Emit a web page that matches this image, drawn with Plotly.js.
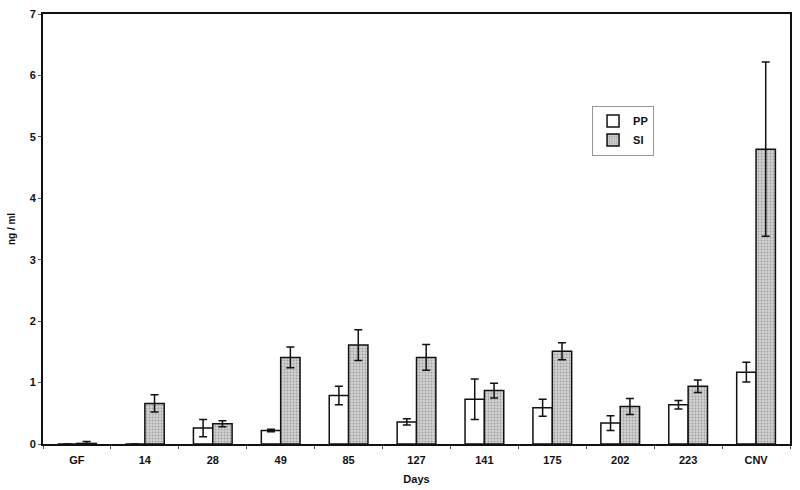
<!DOCTYPE html>
<html>
<head>
<meta charset="utf-8">
<script src="https://cdn.plot.ly/plotly-3.0.1.min.js"></script>
<style>
  body { margin: 0; background: #fff; }
  #chart { width: 800px; height: 490px; }
</style>
</head>
<body>
<div id="chart"></div>
<script>
const days = ['GF', '14', '28', '49', '85', '127', '141', '175', '202', '223', 'CNV'];

const pp_vals = [0, 0, 0.26, 0.22, 0.79, 0.36, 0.73, 0.59, 0.34, 0.64, 1.17];
const pp_err = [0, 0, 0.14, 0.02, 0.15, 0.05, 0.33, 0.14, 0.12, 0.07, 0.16];

const si_vals = [0.01, 0.66, 0.33, 1.41, 1.61, 1.41, 0.87, 1.51, 0.61, 0.94, 4.80];
const si_err = [0.03, 0.14, 0.05, 0.17, 0.25, 0.21, 0.12, 0.14, 0.13, 0.10, 1.42];

const fontFamily = '"Liberation Sans", Arial, sans-serif';

// shared error bar style
function errStyle(arr) {
    return {
        type: 'data',
        array: arr,
        visible: true,
        color: '#111',
        thickness: 1.5,
        width: 4
    };
}

const traces = [
    {
        type: 'bar',
        name: 'PP',
        x: days,
        y: pp_vals,
        error_y: errStyle(pp_err),
        marker: {color: '#ffffff', line: {color: '#111', width: 1.5}}
    },
    {
        type: 'bar',
        name: 'SI',
        x: days,
        y: si_vals,
        error_y: errStyle(si_err),
        marker: {
            color: '#c8c8c8',
            line: {color: '#111', width: 1.5},
            pattern: {shape: '.', fgcolor: '#a0a0a0', bgcolor: '#d2d2d2', size: 3, solidity: 0.3}
        }
    }
];

const layout = {
    width: 800,
    height: 490,
    margin: {l: 43, r: 10, t: 14, b: 46},
    paper_bgcolor: '#fff',
    plot_bgcolor: '#fff',
    font: {family: fontFamily, size: 11, color: '#111', weight: 'bold'},
    barmode: 'group',
    bargap: 0.43,
    bargroupgap: 0,
    showlegend: true,
    legend: {
        x: 0.735, y: 0.787,
        xanchor: 'left', yanchor: 'top',
        bordercolor: '#999', borderwidth: 1,
        bgcolor: '#fff',
        font: {size: 11, weight: 'bold'},
        tracegroupgap: 0,
        itemwidth: 30
    },
    xaxis: {
        type: 'category',
        showline: true, linecolor: '#111', linewidth: 2,
        mirror: true,
        ticks: 'outside', tickson: 'boundaries', ticklen: 3, tickcolor: '#555',
        tickfont: {size: 11, weight: 'bold'},
        ticklabelstandoff: 5,
        title: {text: 'Days', font: {size: 11, weight: 'bold'}, standoff: 10},
        showgrid: false
    },
    yaxis: {
        range: [0, 7],
        dtick: 1,
        showline: true, linecolor: '#111', linewidth: 2,
        mirror: true,
        ticks: 'outside', ticklen: 3, tickcolor: '#555',
        tickfont: {size: 11, weight: 'bold'},
        title: {text: 'ng / ml', font: {size: 10, weight: 'bold'}, standoff: 12},
        showgrid: false,
        zeroline: false
    }
};

Plotly.newPlot('chart', traces, layout, {displayModeBar: false, staticPlot: true});
</script>
</body>
</html>
